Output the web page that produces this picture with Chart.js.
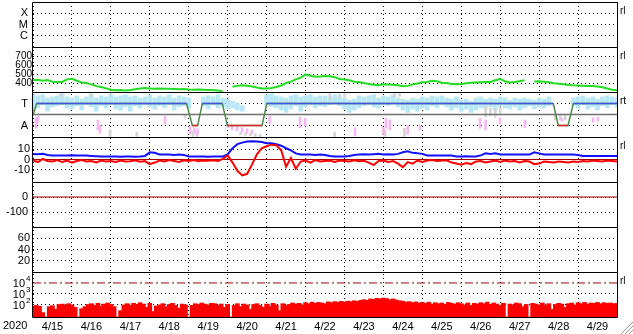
<!DOCTYPE html>
<html>
<head>
<meta charset="utf-8">
<script src="https://cdn.jsdelivr.net/npm/chart.js@4.4.0/dist/chart.umd.min.js"></script>
<style>
  html, body { margin: 0; padding: 0; background: #fff; }
  #wrap { position: relative; width: 633px; height: 334px; }
</style>
</head>
<body>
<div id="wrap"><canvas id="grafico" width="633" height="334"></canvas></div>
<script>
// eixo x em horas desde 4/15 00:00
const dayLabels = ['4/15', '4/16', '4/17', '4/18', '4/19', '4/20', '4/21', '4/22', '4/23', '4/24', '4/25', '4/26', '4/27', '4/28', '4/29'];
const yearLabel = '2020';
const totalHoras = 360;

// painel 1 (classes de raio X)
const xrayClasses = ['C', 'M', 'X'];

// painel 2: velocidade do vento solar, a cada 3 h
const passoVento = 3;
const windSpeed = [430, 435, 425, 432, 415, 410, 412, 440, 448, 425,
  405, 400, 385, 365, 355, 340, 325, 320, 322, 318,
  322, 330, 338, 345, 340, 336, 338, 336, 335, 332,
  330, 332, 328, 326, 328, 325, 323, 322, 318, 305,
  null, 358, 368, 374, 370, 362, 350, 340, 338, 345,
  355, 372, 400, 415, 440, 460, 495, 480, 470, 472,
  478, 476, 465, 445, 440, 430, 415, 410, 400, 390,
  380, 375, 385, 382, 380, 375, 365, 368, 385, 395,
  408, 412, 425, 420, 403, 400, 390, 385, 390, 398,
  403, 405, 408, 410, 412, 430, 445, 420, 405, 410,
  420, 430, null, 418, 420, 415, 408, 398, 392, 385,
  378, 374, 372, 370, 368, 367, 360, 352, 338, 325,
  320];

// painel 3: faixa (min, max) a cada 3 h
const densityRange = [[0.4, 1.8], [0.6, 1.7], [0.9, 1.8], [0.3, 1.5], [0.7, 1.6], [0.8, 1.7], [0.9, 1.9], [0.6, 1.6], [0.5, 1.5], [0.8, 1.7],
  [0.4, 1.4], [0.9, 1.6], [0.7, 1.8], [0.3, 1.5], [0.8, 1.7], [0.6, 1.6], [0.9, 1.8], [0.5, 1.6], [0.4, 1.7], [0.7, 1.8],
  [0.3, 1.6], [0.8, 1.7], [0.6, 1.5], [0.9, 1.6], [0.7, 1.8], [0.5, 1.5], [0.8, 1.7], [0.6, 1.6], [0.9, 1.8], [0.4, 1.5],
  [0.7, 1.7], [0.8, 1.6], [0.6, 1.5], null, null, [0.8, 1.6], [0.5, 1.7], [0.9, 1.6], [0.6, 1.8], [0.7, 1.5],
  [0.5, 1.4], [0.6, 1.2], [0.4, 1.0], [0.3, 0.8], null, null, null, null, [0.9, 1.8], [0.7, 1.9],
  [0.6, 1.7], [0.4, 1.6], [0.2, 1.5], [0.5, 1.7], [0.8, 1.8], [0.3, 1.6], [0.7, 1.7], [0.9, 1.8], [0.6, 1.6], [0.8, 1.7],
  [0.7, 1.7], [0.9, 1.6], [1.0, 1.8], [0.8, 1.6], [0.5, 1.5], [0.2, 1.3], [0.4, 1.4], [0.6, 1.7], [0.8, 1.6], [0.9, 1.7],
  [0.7, 1.8], [0.6, 1.5], [0.9, 1.7], [0.8, 1.6], [1.0, 1.8], [0.7, 1.5], [0.4, 1.4], [0.2, 1.3], [0.5, 1.5], [0.3, 1.4],
  [0.6, 1.6], [0.4, 1.5], [0.8, 1.7], [0.6, 1.6], [0.9, 1.7], [0.7, 1.5], [0.4, 1.4], [0.6, 1.6], [0.3, 1.3], [0.5, 1.4],
  [0.2, 1.2], [0.4, 1.5], [0.6, 1.6], [0.5, 1.4], [0.7, 1.5], [0.4, 1.4], [0.8, 1.6], [0.6, 1.5], [0.5, 1.3], [0.7, 1.5],
  [0.4, 1.4], [0.6, 1.5], [0.8, 1.4], [0.5, 1.3], [0.7, 1.5], [0.6, 1.4], [0.8, 1.6], null, null, null,
  null, [0.8, 1.5], [0.6, 1.6], [0.9, 1.7], [0.5, 1.5], [0.7, 1.6], [0.4, 1.4], [0.8, 1.6], [0.6, 1.7], [0.9, 1.6],
  [0.7, 1.5]];

// [hora, min, max]
const pinkSpikes = [[1.8, -1.25, -0.3], [3.1, -0.7, -0.15], [40, -1.4, -0.5], [41.3, -1.7, -1.0], [81.4, -0.85, -0.15],
  [96.8, -1.8, -1.1], [99.5, -1.75, -1.2], [101.5, -1.85, -1.3],
  [120.2, -1.2, -0.9], [122.7, -1.4, -1.0], [125.8, -1.5, -1.1], [128.9, -1.6, -1.2], [132, -1.7, -1.3], [135, -1.75, -1.4],
  [146, -0.85, -0.15], [164.6, -1.2, -0.25], [167.7, -1.05, -0.35], [198.5, -1.95, -1.2], [216, -1.8, -1.15],
  [217.6, -1.25, -0.35], [220, -1.4, -0.5], [231, -1.8, -1.0], [238.6, -1.4, -1.0], [275.6, -1.25, -0.35],
  [279, -1.4, -0.5], [287.9, -0.85, -0.3], [303.3, -1.2, -0.5], [326, -0.6, -0.3], [345.2, -0.7, -0.3], [348.3, -0.6, -0.25]];

const graySpikes = [[17, 1.55, 1.9], [35.8, 1.6, 1.9], [47.5, -2.0, -1.4], [64, -2.0, -1.6], [93.7, -0.3, 0],
  [98.5, -2.0, -1.5], [101, -2.0, -1.6], [128, -1.85, -1.6], [131, -1.9, -1.65], [134, -1.95, -1.7], [137, -2.0, -1.75],
  [140, -2.0, -1.8], [183, 1.4, 1.9], [186, -2.0, -1.6], [189, 1.5, 1.85], [192, 1.6, 1.9], [217, -2.0, -1.45],
  [223, 1.6, 1.9], [226, 1.65, 1.9], [229, -2.0, -1.25], [279, -0.2, 0.75], [282, -0.1, 0.6], [285, -0.25, 0.5],
  [288, 0, 0.7], [322, -0.5, 0], [325, -0.45, 0.05], [328, -0.5, 0]];

// polaridade (T = 1, A = -1)
const polarityHours = [0, 2.2, 94.7, 98.2, 101.5, 104.4, 116.7, 119.8, 141.2, 144.1, 320.7, 323.8, 329.8, 333.1, 360];
const polarityValues = [-0.1, 1, 1, -1, -1, 1, 1, -1, -1, 1, 1, -1, -1, 1, 1];
const awaySegments = [[2.2, 94.7], [104.4, 116.7], [144.1, 320.7], [333.1, 360]];
const towardSegments = [[98.2, 101.5], [119.8, 141.2], [323.8, 329.8]];

// painel 4: campo magnetico, a cada 3 h
const passoCampo = 3;
const btTotal = [5.4, 5.2, 5.5, 4.5, 4, 4, 3.8, 4, 4.2, 3.8,
  4, 3.9, 3.5, 3.2, 3, 2.9, 2.9, 3, 2.8, 3,
  2.9, 2.8, 3, 3.5, 7, 6.5, 5, 4.8, 4.8, 4.5,
  4.8, 4.5, 3, 2.9, 3, 2.9, 2.8, 3, 2.9, 3,
  5, 11, 15, 16.5, 17.5, 17.8, 17.5, 17, 16, 15.8,
  15, 13.5, 11, 9, 6, 5, 4.8, 4.8, 4.5, 4.8,
  4.5, 3.5, 3, 2.9, 2.9, 3.5, 4.5, 5, 5.2, 5,
  5.2, 5.5, 5, 5.2, 5, 5.5, 7, 8, 6.5, 6,
  5.5, 4, 3.9, 3.8, 4, 3.9, 3.8, 3, 3, 3.2,
  3, 3, 4, 6, 5.5, 6, 5, 4.8, 4.8, 5,
  4.8, 4.8, 4.8, 7, 6, 5, 4.8, 4.8, 5, 4.8,
  4.8, 4.8, 4.5, 3.5, 3.5, 3.5, 3.5, 3.5, 3.5, 3.4,
  3.5];
const bzGsm = [-1, -2.5, 0.5, -1.5, -2, -0.5, -2.5, -1, -3, -1.5,
  -0.5, -2, -1.5, -2.8, -1, -2, -1.5, -2.5, -1, -2,
  -1.8, -0.8, -2.2, -1.5, -4.5, -3, -1, -2, -0.5, -1.5,
  -2.5, -0.8, -1.5, -0.5, -1.8, -1, -1.2, -0.8, -1.5, 0.5,
  4, -3, -11, -15.5, -14, -5, 5, 11, 13, 14.5,
  14, 9, -7, 1.5, -9, -2, -1, -3, -0.5, -2,
  -1.5, -1, -2.5, -1, -1.5, -2, -0.8, -1.8, -1.2, -3,
  -5.5, -1.5, -1, -2.5, -1.5, -4, -7.5, -2.5, -4, -1,
  -2.5, -1, -0.5, -1.5, -1, -0.8, -3, -4, -5, -3.5,
  -4.5, -2, -1.5, -3, -2, -1, -2.5, -1, -2, -1.5,
  -3, -1.5, -2, -4.5, -4, -2, -2.5, -3, -2, -2.5,
  -3, -2, -2.5, -1.5, -2, -1, -1.5, -2, -1, -1.5,
  -2];

// painel 7: fluxo (log), a cada 2 h
const passoFluxo = 2;
const protonFlux = [60, 90, 75, 20, 8, 70, 85, 40, 110, 120, 95, 130,
  100, 60, 8, 45, 70, 110, 130, 90, 140, 80, 120, 150,
  110, 70, 8, 30, 100, 130, 90, 140, 110, 160, 120, 60,
  140, 25, 80, 100, 130, 70, 110, 140, 90, 50, 120, 100,
  8, 90, 130, 110, 150, 120, 100, 140, 130, 90, 120, 60,
  110, 8, 90, 130, 70, 120, 100, 40, 110, 130, 90, 60,
  120, 80, 140, 100, 30, 130, 90, 110, 150, 120, 140, 100,
  160, 130, 180, 140, 170, 150, 130, 190, 160, 200, 170, 210,
  180, 220, 200, 240, 210, 260, 300, 260, 350, 320, 400, 360,
  420, 380, 300, 350, 280, 240, 220, 180, 200, 160, 190, 150,
  170, 140, 180, 120, 160, 130, 150, 110, 170, 140, 120, 160,
  130, 100, 150, 90, 140, 120, 160, 130, 180, 110, 150, 120,
  90, 140, 8, 120, 100, 150, 130, 70, 110, 8, 140, 120,
  100, 150, 90, 130, 40, 110, 140, 120, 60, 130, 150, 100,
  160, 130, 170, 120, 150, 140, 170, 130, 160, 140, 150, 130, 140];
const fluxoMin = Math.pow(10, 0.9);
const protonAlert = 10000;
const logTickExponents = [4, 3, 2];

const rightTags = ['rl', 'rl', 'rt', 'rl', '', '', 'rl'];
const painelIds = ['yXray', 'yVento', 'yPolar', 'yCampo', 'yDst', 'yKp', 'yFluxo'];

function serie(valores, passo) {
  return valores.map((v, i) => ({ x: i * passo, y: v }));
}

function segmentos(lista, nivel) {
  const pts = [];
  lista.forEach(([a, b]) => {
    pts.push({ x: a, y: nivel }, { x: b, y: nivel }, { x: b, y: null });
  });
  return pts;
}

function linhaFixa(valor) {
  return [{ x: 0, y: valor }, { x: totalHoras, y: valor }];
}

function painelEixo(peso, min, max, ticks, formato, tamanho, pad, tipo) {
  return {
    type: tipo || 'linear',
    position: 'left',
    stack: 'painel',
    stackWeight: 1,
    weight: peso,
    min: min,
    max: max,
    afterBuildTicks: (s) => { s.ticks = ticks.map(v => ({ value: v })); },
    afterFit: (s) => { s.width = 33; s.paddingTop = 0; s.paddingBottom = 0; },
    grid: { color: '#000', lineWidth: 1, drawTicks: false },
    border: { display: false, dash: [1, 3] },
    ticks: {
      display: formato !== null,
      autoSkip: false,
      color: '#000',
      padding: pad,
      font: { size: tamanho },
      callback: formato || ((v) => v)
    }
  };
}

const marcasX = [];
for (let h = 0; h <= totalHoras; h += 12) marcasX.push(h);

const molduraPlugin = {
  id: 'moldura',
  afterDraw(chart) {
    const ctx = chart.ctx;
    const area = chart.chartArea;
    ctx.save();
    ctx.strokeStyle = '#000';
    ctx.lineWidth = 1;
    painelIds.forEach((id, i) => {
      const s = chart.scales[id];
      const top = Math.round(s.top) + 0.5;
      const bottom = Math.round(s.bottom) + 0.5;
      ctx.beginPath();
      ctx.moveTo(area.left - 0.5, top);
      ctx.lineTo(area.right + 0.5, top);
      ctx.moveTo(area.left - 0.5, bottom);
      ctx.lineTo(area.right + 0.5, bottom);
      ctx.moveTo(area.left - 0.5, top);
      ctx.lineTo(area.left - 0.5, bottom);
      ctx.moveTo(area.right + 0.5, top);
      ctx.lineTo(area.right + 0.5, bottom);
      ctx.stroke();

      if (rightTags[i]) {
        ctx.fillStyle = '#000';
        ctx.font = '10px "Liberation Sans", Arial, sans-serif';
        ctx.textAlign = 'left';
        ctx.textBaseline = 'middle';
        ctx.fillText(rightTags[i], area.right + 3, s.top + 9);
      }
    });

    // rotulos 10^n do painel log
    const sf = chart.scales.yFluxo;
    ctx.fillStyle = '#000';
    ctx.textBaseline = 'middle';
    logTickExponents.forEach((e) => {
      const y = sf.getPixelForValue(Math.pow(10, e));
      ctx.font = '11px "Liberation Sans", Arial, sans-serif';
      ctx.textAlign = 'right';
      ctx.fillText('10', 25, y + 1);
      ctx.font = '8px "Liberation Sans", Arial, sans-serif';
      ctx.textAlign = 'left';
      ctx.fillText(String(e), 26, y - 4);
    });

    ctx.font = '11px "Liberation Sans", Arial, sans-serif';
    ctx.textAlign = 'left';
    ctx.textBaseline = 'top';
    ctx.fillText(yearLabel, 3, chart.scales.x.top + 3);

    // marca de redimensionar
    ctx.strokeStyle = '#999';
    [4, 8, 12].forEach((k) => {
      ctx.beginPath();
      ctx.moveTo(633 - k, 334);
      ctx.lineTo(633, 334 - k);
      ctx.stroke();
    });
    ctx.restore();
  }
};

Chart.defaults.font.family = '"Liberation Sans", Arial, sans-serif';

const grafico = new Chart(document.getElementById('grafico'), {
  type: 'line',
  data: {
    datasets: [
      { label: 'Vento', yAxisID: 'yVento', data: serie(windSpeed, passoVento), borderColor: '#22dd22', borderWidth: 2, order: 5 },

      { label: 'Densidade', type: 'bar', yAxisID: 'yPolar', grouped: false, barThickness: 4, backgroundColor: '#b8e8f8',
        data: densityRange.map((r, i) => r ? { x: i * passoVento, y: r } : null).filter(Boolean), order: 8 },
      { label: 'Rosa', type: 'bar', yAxisID: 'yPolar', grouped: false, barThickness: 2, backgroundColor: '#f5b8f2',
        data: pinkSpikes.map(([h, a, b]) => ({ x: h, y: [a, b] })), order: 7 },
      { label: 'Cinza', type: 'bar', yAxisID: 'yPolar', grouped: false, barThickness: 2, backgroundColor: '#d4d4d4',
        data: graySpikes.map(([h, a, b]) => ({ x: h, y: [a, b] })), order: 7 },
      { label: 'Zero polar', yAxisID: 'yPolar', data: linhaFixa(0), borderColor: '#707070', borderWidth: 1.5, order: 4 },
      { label: 'Polaridade', yAxisID: 'yPolar', data: polarityHours.map((h, i) => ({ x: h, y: polarityValues[i] })), borderColor: '#4d8c4d', borderWidth: 1.5, order: 3 },
      { label: 'Away', yAxisID: 'yPolar', data: segmentos(awaySegments, 1), borderColor: '#4455dd', borderWidth: 1.5, order: 2 },
      { label: 'Toward', yAxisID: 'yPolar', data: segmentos(towardSegments, -1), borderColor: '#e02828', borderWidth: 1.5, order: 2 },

      { label: 'Zero campo', yAxisID: 'yCampo', data: linhaFixa(0), borderColor: '#a00000', borderWidth: 1, order: 6 },
      { label: 'Bt', yAxisID: 'yCampo', data: serie(btTotal, passoCampo), borderColor: '#1010ff', borderWidth: 2, order: 3 },
      { label: 'Bz', yAxisID: 'yCampo', data: serie(bzGsm, passoCampo), borderColor: '#ff0000', borderWidth: 2, order: 2 },

      { label: 'Zero dst', yAxisID: 'yDst', data: linhaFixa(0), borderColor: '#a00000', borderWidth: 1, order: 6 },

      { label: 'Fluxo', type: 'bar', yAxisID: 'yFluxo', grouped: false, barThickness: 4, backgroundColor: '#ff0000',
        data: protonFlux.map((v, i) => ({ x: i * passoFluxo, y: [fluxoMin, v] })), order: 3 },
      { label: 'Alerta', yAxisID: 'yFluxo', data: linhaFixa(protonAlert), borderColor: '#a00000', borderWidth: 1, borderDash: [8, 3, 2, 3], order: 2 }
    ]
  },
  options: {
    responsive: false,
    animation: false,
    events: [],
    layout: { padding: { top: 2, right: 16, left: 0, bottom: 0 } },
    elements: { point: { radius: 0 }, line: { tension: 0 } },
    plugins: { legend: { display: false }, tooltip: { enabled: false } },
    scales: {
      x: {
        type: 'linear',
        min: 0,
        max: totalHoras,
        offset: false,
        afterBuildTicks: (s) => { s.ticks = marcasX.map(v => ({ value: v })); },
        afterFit: (s) => { s.height = 17; s.paddingLeft = 0; s.paddingRight = 0; },
        grid: {
          offset: false,
          drawTicks: false,
          lineWidth: 1,
          color: (c) => (c.tick && c.tick.value % 24 === 0) ? '#000' : 'rgba(0,0,0,0)'
        },
        border: { display: false, dash: [1, 3] },
        ticks: {
          autoSkip: false,
          maxRotation: 0,
          padding: 3,
          color: '#000',
          font: { size: 11 },
          callback: (v) => (v % 24 === 12) ? dayLabels[(v - 12) / 24] : ''
        }
      },
      yXray: painelEixo(7, 0, 4, [1, 2, 3], (v) => xrayClasses[v - 1], 11, 5),
      yVento: painelEixo(6, 300, 800, [400, 500, 600, 700], (v) => v, 10, 1),
      yPolar: painelEixo(5, -2.05, 2.05, [1, -1], (v) => v === 1 ? 'T' : 'A', 11, 5),
      yCampo: painelEixo(4, -22, 22, [10, 0, -10], (v) => v, 11, 3),
      yDst: painelEixo(3, -200, 100, [0, -100], (v) => v, 11, 5),
      yKp: painelEixo(2, 0, 80, [20, 40, 60], (v) => v, 11, 3),
      yFluxo: painelEixo(1, fluxoMin, 100000, [100, 1000], null, 11, 3, 'logarithmic')
    }
  },
  plugins: [molduraPlugin]
});
</script>
</body>
</html>
